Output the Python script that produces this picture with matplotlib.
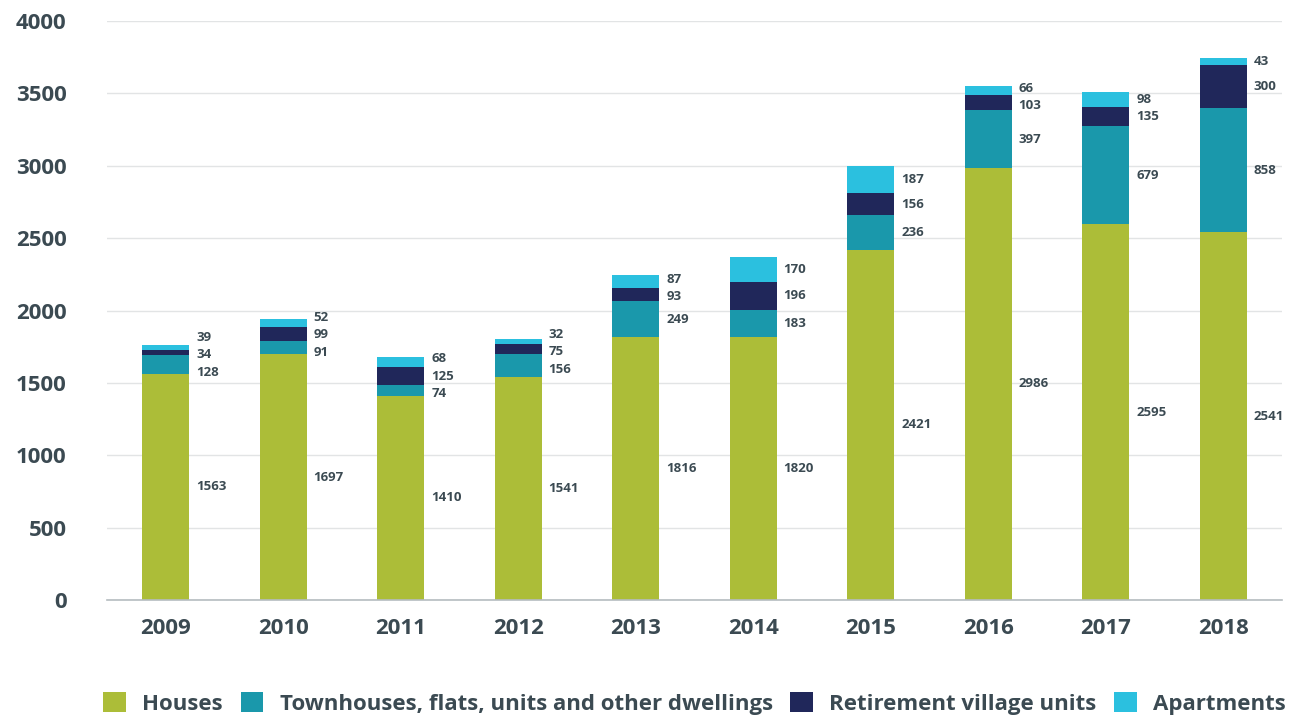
import matplotlib
matplotlib.use("Agg")
import matplotlib.pyplot as plt
import numpy as np

plt.rcParams["font.family"] = ["Open Sans", "DejaVu Sans"]
plt.rcParams["font.weight"] = "bold"

years = ["2009", "2010", "2011", "2012", "2013", "2014", "2015", "2016", "2017", "2018"]
houses = [1563, 1697, 1410, 1541, 1816, 1820, 2421, 2986, 2595, 2541]
townhouses = [128, 91, 74, 156, 249, 183, 236, 397, 679, 858]
retirement = [34, 99, 125, 75, 93, 196, 156, 103, 135, 300]
apartments = [39, 52, 68, 32, 87, 170, 187, 66, 98, 43]

series = [
    ("Houses", houses, "#acbd38"),
    ("Townhouses, flats, units and other dwellings", townhouses, "#1a98ab"),
    ("Retirement village units", retirement, "#20275a"),
    ("Apartments", apartments, "#2bc0df"),
]
TEXT = "#3b4a52"
GAP = 120  # minimum vertical spacing between value labels, data units


def spread(centers, gap):
    # group overlapping labels into clusters, centre each cluster on its mean
    groups = [[i] for i in range(len(centers))]
    changed = True
    while changed:
        changed = False
        placed = []
        for g in groups:
            m = np.mean([centers[i] for i in g])
            n = len(g)
            placed.append((g, m - gap * (n - 1) / 2, m + gap * (n - 1) / 2))
        for k in range(len(placed) - 1):
            if placed[k + 1][1] - placed[k][2] < gap:
                groups = groups[:k] + [placed[k][0] + placed[k + 1][0]] + groups[k + 2:]
                changed = True
                break
    pos = list(centers)
    for g in groups:
        m = np.mean([centers[i] for i in g])
        n = len(g)
        for j, i in enumerate(g):
            pos[i] = m - gap * (n - 1) / 2 + gap * j
    return pos


fig = plt.figure(figsize=(13.01, 7.15), dpi=100)
ax = fig.add_axes([0.0822, 0.1608, 0.9032, 0.8098])

x = np.arange(len(years))
width = 0.4
bottom = np.zeros(len(years))
centers = []
for name, vals, color in series:
    vals = np.array(vals, dtype=float)
    ax.bar(x, vals, width, bottom=bottom, color=color, label=name, zorder=2)
    centers.append(bottom + vals / 2)
    bottom = bottom + vals

for i in range(len(years)):
    c = [centers[s][i] for s in range(len(series))]
    p = spread(c, GAP)
    for s, (name, vals, color) in enumerate(series):
        ax.annotate(f"{vals[i]}", (x[i] + width / 2, p[s]), xytext=(5, 0),
                    textcoords="offset points", va="center", ha="left",
                    fontsize=9.5, fontweight="bold", color=TEXT)

ax.set_xlim(-0.5, 9.5)
ax.set_ylim(0, 4000)
ax.set_yticks(np.arange(0, 4001, 500))
ax.set_xticks(x)
ax.set_xticklabels(years)
ax.yaxis.grid(True, color="#e2e4e5", linewidth=1, zorder=0)
ax.set_axisbelow(True)
for side in ["top", "right", "left"]:
    ax.spines[side].set_visible(False)
ax.spines["bottom"].set_color("#b5bcc0")
ax.spines["bottom"].set_linewidth(1.2)
ax.tick_params(axis="both", length=0, labelsize=16, labelcolor=TEXT)
ax.tick_params(axis="y", pad=29)
ax.tick_params(axis="x", pad=13)
for lbl in ax.get_xticklabels() + ax.get_yticklabels():
    lbl.set_fontweight("bold")

fig.legend(loc="lower center", bbox_to_anchor=(0.534, -0.028), ncol=4, frameon=False,
           fontsize=16, labelcolor=TEXT, handlelength=1.0, handleheight=1.0,
           columnspacing=0.8, handletextpad=0.75)

fig.savefig("out.png", dpi=100)
